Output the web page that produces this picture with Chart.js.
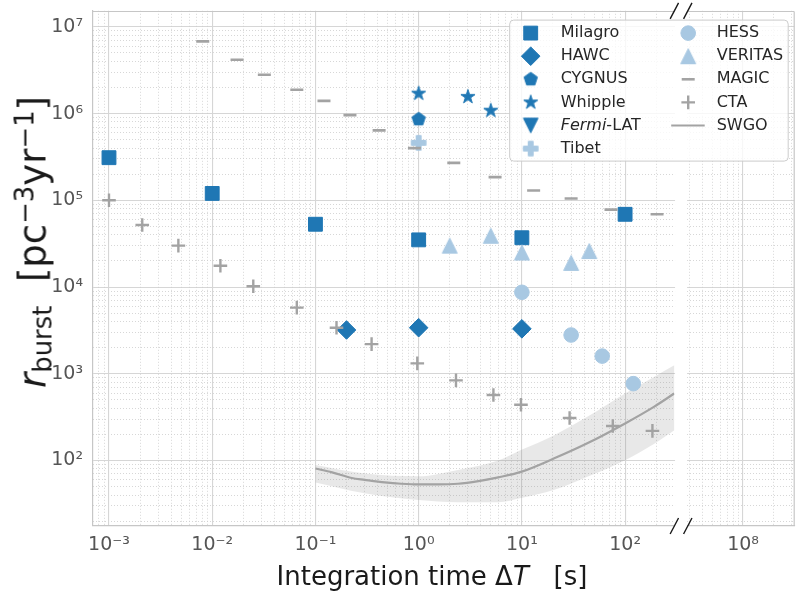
<!DOCTYPE html>
<html>
<head>
<meta charset="utf-8">
<script src="https://cdn.jsdelivr.net/npm/chart.js@4.4.1/dist/chart.umd.min.js"></script>
<style>
  html, body { margin: 0; padding: 0; background: #fff; }
  #wrap { position: relative; width: 805px; height: 598px; font-family: "DejaVu Sans", sans-serif; }
  #chart { position: absolute; left: 0; top: 0; }
  .axis-title { position: absolute; white-space: nowrap; color: #1a1a1a; line-height: 1; }
  #xtitle { font-size: 26px; left: 432px; top: 563px; transform: translateX(-50%); }
  #ytitle { font-size: 37px; left: 33px; top: 242px; transform: translate(-50%, -50%) rotate(-90deg); }
  .axis-title sub, .axis-title sup { font-size: 70%; line-height: 0; }
  #ytitle sub { vertical-align: -0.22em; }
  #ytitle sup { vertical-align: 0.45em; }
</style>
</head>
<body>
<div id="wrap">
  <canvas id="chart" width="805" height="598"></canvas>
  <div id="xtitle" class="axis-title">Integration time Δ<i>T</i>&nbsp;&nbsp;&nbsp;[s]</div>
  <div id="ytitle" class="axis-title"><i>r</i><sub>burst</sub>&nbsp;&nbsp;[pc<sup>−3</sup>yr<sup>−1</sup>]</div>
</div>
<script>
// ---- observed burst-rate limits: integration time [s] vs r_burst [pc^-3 yr^-1] ----
const milagroT = [1e-3, 1e-2, 1e-1, 1, 10, 100];
const milagroR = [3.1e5, 1.2e5, 5.3e4, 3.5e4, 3.7e4, 6.9e4];

const hawcT = [0.2, 1, 10];
const hawcR = [3.2e3, 3.4e3, 3.3e3];

const cygnusT = [1];
const cygnusR = [8.6e5];

const whippleT = [1, 3, 5];
const whippleR = [1.7e6, 1.56e6, 1.08e6];

const fermiT = [];
const fermiR = [];

const tibetT = [1];
const tibetR = [4.6e5];

const hessT = [10, 30, 60, 120];
const hessR = [8.7e3, 2.8e3, 1.6e3, 7.7e2];

const veritasT = [2, 5, 10, 30, 45];
const veritasR = [3.0e4, 3.9e4, 2.5e4, 1.9e4, 2.6e4];

const magicT = [8.1e-3, 0.0174, 0.032, 0.066, 0.121, 0.216, 0.414, 0.91, 2.19, 5.5, 13, 30, 73, 204];
const magicR = [6.8e6, 4.17e6, 2.8e6, 1.88e6, 1.40e6, 9.6e5, 6.4e5, 4.0e5, 2.7e5, 1.85e5, 1.3e5, 1.05e5, 7.8e4, 6.9e4];

// ---- projected sensitivities ----
const ctaT = [1e-3, 2.1e-3, 4.7e-3, 0.012, 0.025, 0.066, 0.16, 0.35, 0.97, 2.3, 5.3, 9.8, 29, 76, 184];
const ctaR = [1.0e5, 5.2e4, 3.0e4, 1.76e4, 1.02e4, 5.8e3, 3.4e3, 2.2e3, 1.32e3, 8.4e2, 5.7e2, 4.4e2, 3.1e2, 2.5e2, 2.2e2];

const swgoT = [0.1, 0.145, 0.225, 0.30, 0.47, 0.68, 1.0, 1.55, 2.4, 3.8, 5.9, 9.8, 20.6, 43, 100, 190, 300];
const swgoR = [81, 73, 63, 60, 56, 54, 53, 53, 54, 58, 64, 74, 106, 158, 268, 416, 593];

const swgoBandT = [0.1, 0.3, 1.0, 2.4, 5.9, 9.8, 20.6, 43, 100, 190, 300];
const swgoBandHi = [89, 71, 66, 78, 100, 132, 196, 319, 593, 921, 1256];
const swgoBandLo = [56, 42, 35, 33, 33, 37, 46, 65, 101, 155, 224];

// ---- axis ranges (left panel, broken-off right panel, shared y) ----
const xLeftRange = [7e-4, 300];
const xRightRange = [Math.pow(10, 7.46), Math.pow(10, 8.5)];
const yRange = [17.6, 1.53e7];

// ---- styling ----
const FONT = '"DejaVu Sans", sans-serif';
const BLUE = '#1f77b4';
const LIGHT = '#a8c8e2';
const GREY = '#a3a3a3';
const GRID_MAJOR = '#d6d6d6';
const GRID_MINOR = '#cdcdcd';
const SPINE = '#c6c6c6';
const CLEAR = 'rgba(0,0,0,0)';
const TICK_COLOR = '#555555';

const pts = (xs, ys) => xs.map((x, i) => ({ x, y: ys[i] }));

function logTicks(min, max) {
  const out = [];
  const e0 = Math.floor(Math.log10(min)), e1 = Math.ceil(Math.log10(max));
  for (let e = e0; e <= e1; e++) {
    for (let k = 1; k <= 9; k++) {
      const v = Number((k * Math.pow(10, e)).toPrecision(6));
      if (v > min * 1.0001 && v < max / 1.0001) out.push(v);
    }
  }
  return out;
}
const isDecade = v => Math.abs(Math.log10(v) - Math.round(Math.log10(v))) < 1e-6;
const SUP = { '-': '⁻', '0': '⁰', '1': '¹', '2': '²', '3': '³', '4': '⁴', '5': '⁵', '6': '⁶', '7': '⁷', '8': '⁸', '9': '⁹' };
const decadeLabel = v => '10' + String(Math.round(Math.log10(v))).split('').map(c => SUP[c]).join('');

// filled marker shapes drawn on small canvases
function markerCanvas(color, pathFn) {
  const c = document.createElement('canvas');
  c.width = 22; c.height = 22;
  const g = c.getContext('2d');
  g.fillStyle = color; g.strokeStyle = color; g.lineWidth = 1; g.lineJoin = 'miter';
  g.beginPath(); pathFn(g, 11, 11); g.closePath(); g.fill(); g.stroke();
  return c;
}
function polyPath(g, cx, cy, n, radii) {
  const m = n * radii.length;
  for (let i = 0; i < m; i++) {
    const a = -Math.PI / 2 + i * 2 * Math.PI / m;
    const r = radii[i % radii.length];
    const x = cx + r * Math.cos(a), y = cy + r * Math.sin(a);
    if (i === 0) g.moveTo(x, y); else g.lineTo(x, y);
  }
}
const pentagon = markerCanvas(BLUE, (g, cx, cy) => polyPath(g, cx, cy, 5, [7]));
const star = markerCanvas(BLUE, (g, cx, cy) => polyPath(g, cx, cy, 5, [7.4, 7.4 * 0.381966]));
const triDown = markerCanvas(BLUE, (g, cx, cy) => { g.moveTo(cx, cy + 7.3); g.lineTo(cx - 7.3, cy - 7.3); g.lineTo(cx + 7.3, cy - 7.3); });
const triUp = markerCanvas(LIGHT, (g, cx, cy) => { g.moveTo(cx, cy - 7.5); g.lineTo(cx + 7.5, cy + 7.5); g.lineTo(cx - 7.5, cy + 7.5); });
const plusFilled = markerCanvas(LIGHT, (g, cx, cy) => {
  const a = 7.3, b = a / 3;
  const p = [[-b, -a], [b, -a], [b, -b], [a, -b], [a, b], [b, b], [b, a], [-b, a], [-b, b], [-a, b], [-a, -b], [-b, -b]];
  p.forEach(([x, y], i) => i ? g.lineTo(cx + x, cy + y) : g.moveTo(cx + x, cy + y));
});

function scatterSet(label, xs, ys, style, radius, fill, stroke, width, order) {
  return {
    type: 'scatter', label, data: pts(xs, ys), xAxisID: 'xL', yAxisID: 'y',
    pointStyle: style, pointRadius: radius, pointHoverRadius: radius,
    pointBackgroundColor: fill, pointBorderColor: stroke, pointBorderWidth: width, order
  };
}

const datasets = [
  scatterSet('Milagro', milagroT, milagroR, 'rect', 9.8, BLUE, BLUE, 1, 10),
  scatterSet('HAWC', hawcT, hawcR, 'rectRot', 9.3, BLUE, BLUE, 1, 9),
  scatterSet('CYGNUS', cygnusT, cygnusR, pentagon, 7, BLUE, BLUE, 0, 8),
  scatterSet('Whipple', whippleT, whippleR, star, 7, BLUE, BLUE, 0, 7),
  scatterSet('Fermi-LAT', fermiT, fermiR, triDown, 7, BLUE, BLUE, 0, 6),
  scatterSet('Tibet', tibetT, tibetR, plusFilled, 7, LIGHT, LIGHT, 0, 5),
  scatterSet('HESS', hessT, hessR, 'circle', 7.3, LIGHT, LIGHT, 1, 4),
  scatterSet('VERITAS', veritasT, veritasR, triUp, 7, LIGHT, LIGHT, 0, 3),
  scatterSet('MAGIC', magicT, magicR, 'line', 6.5, GREY, GREY, 2.6, 2),
  scatterSet('CTA', ctaT, ctaR, 'cross', 6.8, GREY, GREY, 2.4, 1),
  {
    type: 'line', label: 'SWGO', data: pts(swgoT, swgoR), xAxisID: 'xL', yAxisID: 'y',
    borderColor: GREY, borderWidth: 2.2, pointRadius: 0, fill: false,
    cubicInterpolationMode: 'monotone', order: 11
  },
  {
    type: 'line', label: 'SWGO upper', data: pts(swgoBandT, swgoBandHi), xAxisID: 'xL', yAxisID: 'y',
    borderWidth: 0, borderColor: CLEAR, pointRadius: 0, cubicInterpolationMode: 'monotone',
    fill: '+1', backgroundColor: 'rgba(128,128,128,0.18)', order: 12
  },
  {
    type: 'line', label: 'SWGO lower', data: pts(swgoBandT, swgoBandLo), xAxisID: 'xL', yAxisID: 'y',
    borderWidth: 0, borderColor: CLEAR, pointRadius: 0, cubicInterpolationMode: 'monotone',
    fill: false, order: 13
  }
];

// ---- scales: majors carry labels + solid grid, minors carry dotted grid ----
function tickSetter(list) { return s => { s.ticks = list.map(v => ({ value: v, major: isDecade(v) })); }; }
const yTickList = logTicks(yRange[0], yRange[1]);
const xLTickList = logTicks(xLeftRange[0], xLeftRange[1]);
const xRTickList = logTicks(xRightRange[0], xRightRange[1]);
const W_LEFT = 584.5, W_GAP = 13.5, W_RIGHT = 107;

// fixed box sizes; edge labels are allowed to overhang the plot frame
function fixHeight(h) { return s => { s.height = h; s.paddingLeft = 0; s.paddingRight = 0; s.paddingTop = 0; s.paddingBottom = 0; }; }
function fixWidth(w) { return s => { s.width = w; s.paddingLeft = 0; s.paddingRight = 0; s.paddingTop = 0; s.paddingBottom = 0; }; }

function labelTicks() {
  return {
    autoSkip: false, maxRotation: 0, minRotation: 0, padding: 8, color: TICK_COLOR,
    font: { family: FONT, size: 19 },
    callback: v => isDecade(v) ? decadeLabel(v) : ''
  };
}
function xMajor(range, list, weight) {
  return {
    type: 'logarithmic', axis: 'x', position: 'bottom', stack: 'major', stackWeight: weight,
    min: range[0], max: range[1], afterBuildTicks: tickSetter(list),
    afterFit: fixHeight(72),
    grid: { color: c => isDecade(c.tick.value) ? GRID_MAJOR : CLEAR, lineWidth: 1.1, drawTicks: false },
    border: { display: true, color: SPINE, width: 1.2 },
    ticks: labelTicks()
  };
}
function xMinor(range, list, weight) {
  return {
    type: 'logarithmic', axis: 'x', position: 'bottom', stack: 'minor', stackWeight: weight,
    min: range[0], max: range[1], afterBuildTicks: tickSetter(list),
    afterFit: fixHeight(0),
    grid: { color: c => isDecade(c.tick.value) ? CLEAR : GRID_MINOR, lineWidth: 0.8, drawTicks: false },
    border: { display: false, dash: [1, 2] },
    ticks: { display: false, autoSkip: false, maxRotation: 0 }
  };
}
function xGap(stack) {
  return {
    type: 'linear', axis: 'x', position: 'bottom', stack, stackWeight: W_GAP, min: 0, max: 1,
    afterFit: fixHeight(0),
    grid: { display: false, drawTicks: false }, border: { display: false }, ticks: { display: false }
  };
}

const scales = {
  y: {
    type: 'logarithmic', position: 'left', min: yRange[0], max: yRange[1],
    afterBuildTicks: tickSetter(yTickList),
    afterFit: fixWidth(91),
    grid: { color: c => isDecade(c.tick.value) ? GRID_MAJOR : CLEAR, lineWidth: 1.1, drawTicks: false },
    border: { display: true, color: SPINE, width: 1.2 },
    ticks: Object.assign(labelTicks(), { padding: 10 })
  },
  yM: {
    type: 'logarithmic', axis: 'y', position: 'left', min: yRange[0], max: yRange[1],
    afterBuildTicks: tickSetter(yTickList),
    afterFit: fixWidth(0),
    grid: { color: c => isDecade(c.tick.value) ? CLEAR : GRID_MINOR, lineWidth: 0.8, drawTicks: false },
    border: { display: false, dash: [1, 2] },
    ticks: { display: false, autoSkip: false }
  },
  xL: xMajor(xLeftRange, xLTickList, W_LEFT),
  xG: xGap('major'),
  xR: xMajor(xRightRange, xRTickList, W_RIGHT),
  xLm: xMinor(xLeftRange, xLTickList, W_LEFT),
  xGm: xGap('minor'),
  xRm: xMinor(xRightRange, xRTickList, W_RIGHT)
};

// ---- broken-axis frame: blank gap, outer spines, break marks ----
const brokenAxisPlugin = {
  id: 'brokenAxis',
  beforeDatasetsDraw(chart) {
    const { ctx, chartArea } = chart;
    const l = chart.scales.xL.right + 0.7, r = chart.scales.xR.left - 0.7;
    ctx.save();
    ctx.fillStyle = '#ffffff';
    ctx.fillRect(l, chartArea.top - 2, r - l, chartArea.bottom - chartArea.top + 4);
    ctx.restore();
  },
  afterDatasetsDraw(chart) {
    const { ctx, chartArea } = chart;
    const xl = chart.scales.xL, xr = chart.scales.xR;
    const top = Math.round(chartArea.top) + 0.5;
    ctx.save();
    ctx.strokeStyle = SPINE; ctx.lineWidth = 1.2;
    ctx.beginPath();
    ctx.moveTo(chartArea.left, top); ctx.lineTo(xl.right, top);
    ctx.moveTo(xr.left, top); ctx.lineTo(chartArea.right, top);
    ctx.moveTo(chartArea.right, top); ctx.lineTo(chartArea.right, chartArea.bottom);
    ctx.stroke();
    ctx.strokeStyle = '#1a1a1a'; ctx.lineWidth = 1.4;
    ctx.beginPath();
    [xl.right, xr.left].forEach(x => {
      [chartArea.top, chartArea.bottom].forEach(y => {
        ctx.moveTo(x - 4.2, y + 8); ctx.lineTo(x + 4.2, y - 8);
      });
    });
    ctx.stroke();
    ctx.restore();
  }
};

// ---- two-column legend in the upper right ----
const legendOrder = ['Milagro', 'HAWC', 'CYGNUS', 'Whipple', 'Fermi-LAT', 'Tibet', 'HESS', 'VERITAS', 'MAGIC', 'CTA', 'SWGO'];
const italicPrefix = { 'Fermi-LAT': 'Fermi' };
const LEG = { right: 6, top: 9.3, width: 278.5, height: 141, radius: 4, firstRow: 13, rowH: 23.1, rows: 6,
              marker: [21, 178.5], text: [51, 207], line: [161.5, 195] };

function drawLegendMarker(ctx, ds, x, y) {
  ctx.save();
  ctx.fillStyle = ds.pointBackgroundColor;
  ctx.strokeStyle = ds.pointBorderColor;
  ctx.lineWidth = ds.pointBorderWidth;
  Chart.helpers.drawPoint(ctx, { pointStyle: ds.pointStyle, radius: ds.pointRadius, rotation: 0, borderWidth: ds.pointBorderWidth }, x, y);
  ctx.restore();
}

const legendPlugin = {
  id: 'cornerLegend',
  afterDraw(chart) {
    const { ctx, chartArea } = chart;
    const bx = chartArea.right - LEG.right - LEG.width, by = chartArea.top + LEG.top;
    ctx.save();
    ctx.beginPath();
    const r = LEG.radius, w = LEG.width, h = LEG.height;
    ctx.moveTo(bx + r, by);
    ctx.arcTo(bx + w, by, bx + w, by + h, r);
    ctx.arcTo(bx + w, by + h, bx, by + h, r);
    ctx.arcTo(bx, by + h, bx, by, r);
    ctx.arcTo(bx, by, bx + w, by, r);
    ctx.closePath();
    ctx.fillStyle = 'rgba(255,255,255,0.8)'; ctx.fill();
    ctx.strokeStyle = '#cccccc'; ctx.lineWidth = 1; ctx.stroke();

    const font = '16px ' + FONT;
    ctx.textBaseline = 'middle'; ctx.textAlign = 'left'; ctx.fillStyle = '#262626';
    legendOrder.forEach((name, i) => {
      const ds = chart.data.datasets.find(d => d.label === name);
      const col = i < LEG.rows ? 0 : 1, row = col ? i - LEG.rows : i;
      const y = by + LEG.firstRow + row * LEG.rowH;
      if (ds.type === 'line') {
        ctx.save();
        ctx.strokeStyle = ds.borderColor; ctx.lineWidth = ds.borderWidth;
        ctx.beginPath(); ctx.moveTo(bx + LEG.line[0], y); ctx.lineTo(bx + LEG.line[1], y); ctx.stroke();
        ctx.restore();
      } else {
        drawLegendMarker(ctx, ds, bx + LEG.marker[col], y);
      }
      let tx = bx + LEG.text[col];
      ctx.fillStyle = '#262626';
      const it = italicPrefix[name];
      if (it) {
        ctx.font = 'italic ' + font; ctx.fillText(it, tx, y);
        tx += ctx.measureText(it).width;
        ctx.font = font; ctx.fillText(name.slice(it.length), tx, y);
      } else {
        ctx.font = font; ctx.fillText(name, tx, y);
      }
    });
    ctx.restore();
  }
};

new Chart(document.getElementById('chart'), {
  type: 'scatter',
  data: { datasets },
  options: {
    responsive: false, animation: false, events: [],
    layout: { padding: { top: 10, right: 5, left: 2, bottom: 0 } },
    plugins: { legend: { display: false }, tooltip: { enabled: false } },
    scales
  },
  plugins: [brokenAxisPlugin, legendPlugin]
});
</script>
</body>
</html>
